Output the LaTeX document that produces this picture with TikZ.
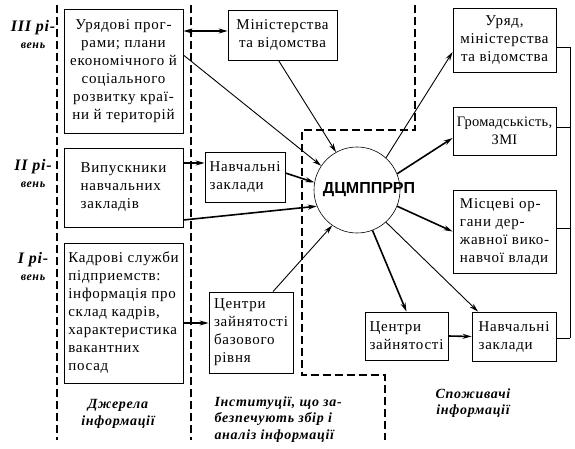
\documentclass[tikz,border=0pt]{standalone}
\usepackage{fontspec}
\setmainfont[LetterSpace=5]{Liberation Serif}
\newfontfamily\hubfont{Liberation Sans}
\usepackage{tikz}
\usetikzlibrary{arrows.meta}

\tikzset{
  box/.style={draw, line width=0.8pt, inner sep=2pt, font=\fontsize{15}{18}\selectfont},
  hub/.style={draw, circle, line width=0.6pt, minimum size=86pt, inner sep=0pt},
  arr/.style={line width=0.9pt, -{Stealth[length=9pt,width=5pt]}},
  arrb/.style={line width=1.6pt, -{Stealth[length=9pt,width=5pt]}},
  arrboth/.style={line width=1.6pt, {Stealth[length=9pt,width=5pt]}-{Stealth[length=9pt,width=5pt]}},
  zone/.style={line width=2pt, dash pattern=on 8pt off 4pt},
  level/.style={font=\fontsize{16}{17}\bfseries\itshape\selectfont, align=center},
  group/.style={font=\fontsize{14}{16.5}\bfseries\itshape\selectfont},
}

\begin{document}
\begin{tikzpicture}[x=1pt, y=-1pt]
\useasboundingbox (0,0) rectangle (575,449);

% zones
\draw[zone] (57,5) -- (57,440);
\draw[zone] (191,5) -- (191,440);
\draw[zone] (415,5) -- (415,130) -- (302,130) -- (302,375) -- (385,375) -- (385,440);

% levels
\node[level] (lev3) at (33,35) {III рі-\\{\fontsize{12}{14}\selectfont вень}};
\node[level] (lev2) at (33,174) {II рі-\\{\fontsize{12}{14}\selectfont вень}};
\node[level] (lev1) at (33,267) {I рі-\\{\fontsize{12}{14}\selectfont вень}};

% sources
\node[box, minimum width=119pt, minimum height=124pt, align=center] (src1) at (123.5,71)
  {Урядові прог-\\рами; плани\\економічного й\\соціального\\розвитку краї-\\ни й територій};
\node[box, minimum width=119pt, minimum height=79pt, align=left] (src2) at (123.5,187.5)
  {Випускники\\навчальних\\закладів};
\node[box, minimum width=119pt, minimum height=140pt, align=left] (src3) at (123.5,313)
  {Кадрові служби\\підприемств:\\інформація про\\склад кадрів,\\характеристика\\вакантних\\посад};

% institutions
\node[box, minimum width=109pt, minimum height=50pt, align=center] (min) at (282.5,35)
  {Міністерства\\та відомства};
\node[box, minimum width=80pt, minimum height=50pt, align=left] (nav1) at (245,177)
  {Навчальні\\заклади};
\node[box, minimum width=84pt, minimum height=81pt, align=left] (cz1) at (251,332.5)
  {Центри\\зайнятості\\базового\\рівня};

\node[hub] (hub) at (357,190) {};
\node[font=\fontsize{16}{18}\hubfont\bfseries] (hubtxt) at (369,190) {ДЦМППРРП};

% consumers
\node[box, minimum width=103pt, minimum height=64pt, align=center] (ur) at (504.5,40)
  {Уряд,\\міністерства\\та відомства};
\node[box, minimum width=103pt, minimum height=48pt, align=center, inner sep=1pt,
  font=\fontsize{14.5}{18}\selectfont\addfontfeatures{LetterSpace=2}] (gr) at (504.5,131)
  {Громадськість,\\ЗМІ};
\node[box, minimum width=103pt, minimum height=83pt, align=left] (mo) at (504.5,231.5)
  {Місцеві ор-\\гани дер-\\жавної вико-\\навчої влади};
\node[box, minimum width=84pt, minimum height=49pt, align=left] (nav2) at (514,336.5)
  {Навчальні\\заклади};
\node[box, minimum width=83pt, minimum height=48pt, align=left] (cz2) at (406.5,336)
  {Центри\\зайнятості};

\node[group, align=center] (srclbl) at (118,414) {Джерела\\інформації};
\node[group, align=left, anchor=north west] (instlbl) at (211,393)
  {Інституції, що за-\\безпечують збір і\\аналіз інформації};
\node[group, align=center] (uselbl) at (473,403) {Споживачі\\інформації};

% flows
\coordinate (minin) at ([yshift=4pt]min.west);
\coordinate (n1in) at ([yshift=14pt]nav1.west);
\coordinate (czin) at ([yshift=9.5pt]cz1.west);

\draw[arrboth] (src1.east |- minin) -- (minin);
\draw[arr] ([yshift=16pt]src1.east) -- (hub.146);
\draw[arr] ([xshift=-4pt]min.south) -- (hub.119);
\draw[arrb] (src2.east |- n1in) -- (n1in);
\draw[arrb] ([yshift=-32.5pt]src2.east) -- (hub.202);
\draw[arrb] ([yshift=4pt]nav1.east) -- (hub.170);
\draw[arrb] (src3.east |- czin) -- (czin);
\draw[arr] ([xshift=22pt]cz1.north) -- (hub.235);

\draw[arr] (hub.48) -- ([yshift=-12pt]ur.west);
\draw[arrb] (hub.22) -- ([yshift=-7pt]gr.west);
\draw[arrb] (hub.-22) -- (mo.west);
\draw[arr] (hub.-48) -- ([xshift=-36pt]nav2.north);
\draw[arrb] (hub.-69) -- (cz2.north);
\draw[arrb] (cz2.east) -- (nav2.west);

% feedback bus
\foreach \b/\yb [count=\i] in {ur/47, gr/127, mo/228, nav2/338}
{
    \coordinate (bus\i) at (570,\yb);
    \draw[line width=0.8pt] (\b.east |- bus\i) -- (bus\i);
}
\draw[line width=0.8pt] (bus1) -- (bus4);

\end{tikzpicture}
\end{document}
